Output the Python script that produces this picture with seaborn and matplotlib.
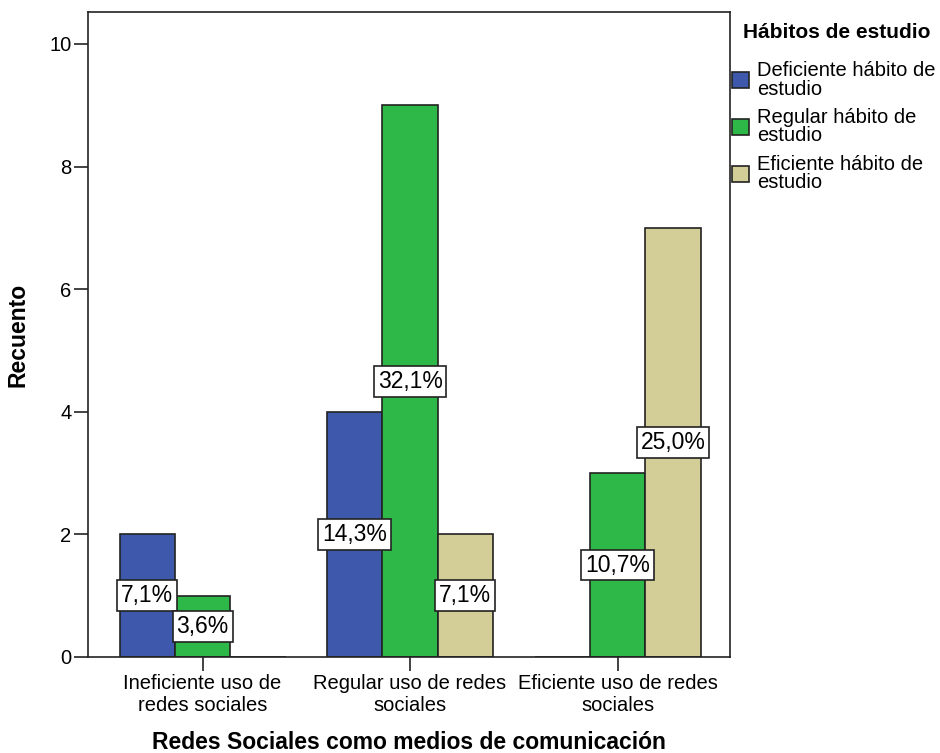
import pandas as pd
import matplotlib.pyplot as plt
import seaborn as sns

# data
categorias = ['Ineficiente uso de\nredes sociales', 'Regular uso de redes\nsociales', 'Eficiente uso de redes\nsociales']
habitos = ['Deficiente hábito de\nestudio', 'Regular hábito de\nestudio', 'Eficiente hábito de\nestudio']
deficiente = [2, 4, 0]
regular = [1, 9, 3]
eficiente = [0, 2, 7]
pct_deficiente = ['7,1%', '14,3%', '']
pct_regular = ['3,6%', '32,1%', '10,7%']
pct_eficiente = ['', '7,1%', '25,0%']

colores = ['#3E58AC', '#2EB848', '#D3CE97']

rows = []
for serie, vals, pcts in zip(habitos, [deficiente, regular, eficiente], [pct_deficiente, pct_regular, pct_eficiente]):
    for cat, v, p in zip(categorias, vals, pcts):
        rows.append({'cat': cat, 'habito': serie, 'recuento': v, 'pct': p})
df = pd.DataFrame(rows)

sns.set_style('white')
plt.rcParams['font.family'] = ['Liberation Sans', 'DejaVu Sans']
plt.rcParams['text.color'] = 'black'
plt.rcParams['axes.labelcolor'] = 'black'
plt.rcParams['xtick.color'] = 'black'
plt.rcParams['ytick.color'] = 'black'

fig = plt.figure(figsize=(9.4, 7.53), dpi=100)
ax = fig.add_axes([0.0936, 0.1275, 0.683, 0.8565])

sns.barplot(data=df, x='cat', y='recuento', hue='habito', order=categorias, hue_order=habitos,
            palette=colores, width=0.8, edgecolor='#222222', linewidth=1.2, saturation=1,
            errorbar=None, ax=ax)

# percentage labels in white boxes at half height
for cont, serie in zip(ax.containers, habitos):
    sub = df[df['habito'] == serie].set_index('cat').loc[categorias]
    for bar, v, p in zip(cont, sub['recuento'], sub['pct']):
        if v == 0:
            continue
        ax.text(bar.get_x() + bar.get_width() / 2, v / 2, p, ha='center', va='center', fontsize=16.5,
                bbox=dict(boxstyle='square,pad=0.17', facecolor='white', edgecolor='#222222', linewidth=1.2),
                zorder=5)

ax.set_xlim(-0.552, 2.542)
ax.set_ylim(0, 10.52)
ax.set_yticks([0, 2, 4, 6, 8, 10])
ax.tick_params(axis='both', direction='out', length=10, width=1.2, color='#222222', labelsize=14.5,
               bottom=True, left=True, pad=2)
for s in ax.spines.values():
    s.set_color('#222222')
    s.set_linewidth(1.2)

ax.set_xlabel('Redes Sociales como medios de comunicación', fontsize=16.5, fontweight='bold')
ax.set_ylabel('Recuento', fontsize=16.5, fontweight='bold')
ax.xaxis.set_label_coords(0.5, -0.132)
ax.xaxis.label.set_va('center')
ax.yaxis.set_label_coords(-0.109, 0.5)
ax.yaxis.label.set_va('center')

# legend title drawn separately so the gap to the entries matches
fig.text(837 / 940, 1 - 33 / 753, 'Hábitos de estudio', ha='center', va='center', fontsize=15, fontweight='bold')
leg = ax.legend(loc='upper left', bbox_to_anchor=(730 / 940, 1 - 59 / 753), bbox_transform=fig.transFigure,
                frameon=False, fontsize=14.5, handlelength=0.85, handleheight=0.85, handletextpad=0.4,
                labelspacing=0.45, borderaxespad=0.0, borderpad=0.1)
for t in leg.get_texts():
    t.set_linespacing(0.98)
for h in leg.legend_handles:
    h.set_edgecolor('#222222')
    h.set_linewidth(1.2)

fig.savefig('out.png', dpi=100)
plt.close(fig)
